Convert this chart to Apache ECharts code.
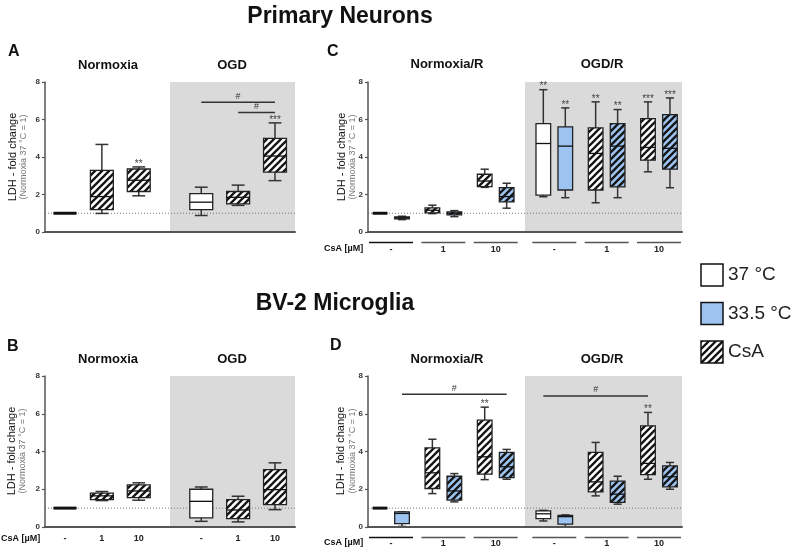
<!DOCTYPE html>
<html>
<head>
<meta charset="utf-8">
<script src="https://cdn.jsdelivr.net/npm/echarts@6/dist/echarts.min.js"></script>
<style>
  html, body { margin: 0; padding: 0; background: #fff; }
  #chart { width: 793px; height: 550px; }
</style>
</head>
<body>
<div id="chart"></div>
<script>
// CsA 浓度标签
const csaLabels = ['-', '1', '10', '-', '1', '10'];

// 图例
const legendNames = ['37 °C', '33.5 °C', 'CsA'];
const legendKinds = ['w', 'b', 'h'];

// A: Primary Neurons, Normoxia / OGD   [min, Q1, median, Q3, max]
const boxA = [
  [1, 1, 1, 1, 1],
  [0.99, 1.19, 1.89, 3.29, 4.67],
  [1.93, 2.16, 2.76, 3.36, 3.47],
  [0.88, 1.19, 1.59, 2.05, 2.39],
  [1.42, 1.50, 1.85, 2.16, 2.50],
  [2.74, 3.19, 4.05, 4.99, 5.82]
];
const kindA = ['w', 'h', 'h', 'w', 'h', 'h'];
const starA = ['', '', '**', '', '', '***'];
// [box from, box to, y]
const sigA = [[3, 5, 6.92], [4, 5, 6.37]];

// B: BV-2, Normoxia / OGD
const boxB = [
  [1, 1, 1, 1, 1],
  [1.40, 1.45, 1.65, 1.80, 1.88],
  [1.42, 1.56, 1.91, 2.23, 2.34],
  [0.30, 0.48, 1.36, 2.00, 2.12],
  [0.27, 0.44, 0.90, 1.45, 1.63],
  [0.92, 1.19, 1.98, 3.04, 3.40]
];
const kindB = ['w', 'h', 'h', 'w', 'h', 'h'];

// C: Primary Neurons, Normoxia/R / OGD/R (37 °C / 33.5 °C)
const boxC = [
  [1, 1, 1, 1, 1],
  [0.66, 0.70, 0.75, 0.80, 0.84],
  [0.98, 1.02, 1.16, 1.29, 1.43],
  [0.82, 0.91, 1.00, 1.07, 1.14],
  [2.38, 2.42, 2.72, 3.08, 3.35],
  [1.27, 1.61, 1.89, 2.37, 2.60],
  [1.88, 1.97, 4.72, 5.78, 7.59],
  [1.83, 2.24, 4.58, 5.61, 6.62],
  [1.56, 2.24, 4.19, 5.55, 6.94],
  [1.83, 2.41, 4.58, 5.78, 6.53],
  [3.21, 3.83, 4.51, 6.05, 6.94],
  [2.36, 3.35, 4.46, 6.26, 7.15]
];
const kindCD = ['w', 'b', 'h', 'hb', 'h', 'hb', 'w', 'b', 'h', 'hb', 'h', 'hb'];
const starC = ['', '', '', '', '', '', '**', '**', '**', '**', '***', '***'];

// D: BV-2, Normoxia/R / OGD/R
const boxD = [
  [1, 1, 1, 1, 1],
  [0.03, 0.18, 0.72, 0.80, 0.80],
  [1.77, 2.04, 2.87, 4.19, 4.65],
  [1.33, 1.42, 1.91, 2.69, 2.83],
  [2.51, 2.80, 3.72, 5.66, 6.35],
  [2.53, 2.62, 3.19, 3.95, 4.11],
  [0.32, 0.44, 0.70, 0.85, 0.88],
  [0.02, 0.15, 0.55, 0.62, 0.64],
  [1.65, 1.86, 2.39, 3.95, 4.48],
  [1.21, 1.30, 1.74, 2.43, 2.69],
  [2.53, 2.78, 3.37, 5.36, 6.07],
  [2.00, 2.13, 2.66, 3.24, 3.42]
];
const starD = ['', '', '', '', '**', '', '', '', '', '', '**', ''];
const sigD = [[1, 5, 7.03], [6, 10, 6.94]];

const FONT = '"Liberation Sans", Arial, sans-serif';
const BLUE = '#9dc3f1';
const GRAY = '#dadada';

// 斜线填充
function makeHatch(bg) {
  const c = document.createElement('canvas');
  c.width = 7;
  c.height = 7;
  const ctx = c.getContext('2d');
  ctx.fillStyle = bg;
  ctx.fillRect(0, 0, 7, 7);
  ctx.strokeStyle = '#151515';
  ctx.lineWidth = 2.3;
  ctx.beginPath();
  ctx.moveTo(-1, 8); ctx.lineTo(8, -1);
  ctx.moveTo(-1, 1); ctx.lineTo(1, -1);
  ctx.moveTo(6, 8); ctx.lineTo(8, 6);
  ctx.stroke();
  return c;
}
const hatchW = makeHatch('#ffffff');
const hatchB = makeHatch(BLUE);

function fillOf(kind) {
  if (kind === 'w') return '#ffffff';
  if (kind === 'b') return BLUE;
  if (kind === 'h') return { image: hatchW, repeat: 'repeat' };
  return { image: hatchB, repeat: 'repeat' };
}

// x 位置 (0..6 轴, 3 为分界)
function posAB(i) { return i < 3 ? 0.48 + 0.885 * i : 3.75 + 0.885 * (i - 3); }
function groupCD(g) { return g < 3 ? 0.44 + g : 3.56 + (g - 3); }
function posCD(i) { return groupCD(Math.floor(i / 2)) + (i % 2 ? 0.21 : -0.21); }

// 网格: 0=A 1=C 2=B 3=D
const grids = [
  { left: 45, top: 82, width: 250, height: 150 },
  { left: 368, top: 82, width: 314, height: 150 },
  { left: 45, top: 376, width: 250, height: 151 },
  { left: 368, top: 376, width: 314, height: 151 }
];

function bgSeries(idx) {
  return {
    type: 'custom', xAxisIndex: idx, yAxisIndex: idx, z: 1, silent: true,
    data: [[3, 6]],
    renderItem: function (params, api) {
      const p0 = api.coord([3, 8]);
      const p1 = api.coord([6, 0]);
      const l0 = api.coord([0, 1]);
      const l1 = api.coord([6, 1]);
      return {
        type: 'group', children: [
          { type: 'rect', shape: { x: p0[0], y: p0[1], width: p1[0] - p0[0], height: p1[1] - p0[1] }, style: { fill: GRAY } },
          { type: 'line', shape: { x1: l0[0], y1: l0[1], x2: l1[0], y2: l1[1] }, style: { stroke: '#777', lineWidth: 1, lineDash: [1, 2] } }
        ]
      };
    }
  };
}

function boxSeries(idx, boxes, kinds, stars, pos, boxW) {
  return {
    type: 'custom', xAxisIndex: idx, yAxisIndex: idx, z: 3,
    data: boxes.map((b, i) => [pos(i)].concat(b)),
    encode: { x: 0, y: [1, 2, 3, 4, 5] },
    renderItem: function (params, api) {
      const i = params.dataIndex;
      const x = api.value(0);
      const cx = api.coord([x, 0])[0];
      const yMin = api.coord([x, api.value(1)])[1];
      const yQ1 = api.coord([x, api.value(2)])[1];
      const yMed = api.coord([x, api.value(3)])[1];
      const yQ3 = api.coord([x, api.value(4)])[1];
      const yMax = api.coord([x, api.value(5)])[1];
      const w = api.size([boxW, 0])[0];
      const c = w * 0.28;
      const flat = api.value(2) === api.value(4);
      const ws = { stroke: '#333', lineWidth: 1.5 };
      const children = [
        { type: 'line', shape: { x1: cx, y1: yQ3, x2: cx, y2: yMax }, style: ws },
        { type: 'line', shape: { x1: cx - c, y1: yMax, x2: cx + c, y2: yMax }, style: ws },
        { type: 'line', shape: { x1: cx, y1: yQ1, x2: cx, y2: yMin }, style: ws },
        { type: 'line', shape: { x1: cx - c, y1: yMin, x2: cx + c, y2: yMin }, style: ws },
        { type: 'rect', shape: { x: cx - w / 2, y: yQ3, width: w, height: yQ1 - yQ3 },
          style: { fill: fillOf(kinds[i]), stroke: '#222', lineWidth: 1.3 } },
        { type: 'line', shape: { x1: cx - w / 2, y1: yMed, x2: cx + w / 2, y2: yMed },
          style: { stroke: '#111', lineWidth: flat ? 3 : 1.3 } }
      ];
      if (stars && stars[i]) {
        children.push({
          type: 'text', x: cx, y: yMax - 3,
          style: { text: stars[i], fontSize: 10, fontFamily: FONT, fill: '#444', align: 'center', verticalAlign: 'middle' }
        });
      }
      return { type: 'group', children: children };
    }
  };
}

function sigSeries(idx, sig, pos, color) {
  return {
    type: 'custom', xAxisIndex: idx, yAxisIndex: idx, z: 3, silent: true,
    data: sig.map(s => [pos(s[0]), pos(s[1]), s[2]]),
    encode: { x: [0, 1], y: 2 },
    renderItem: function (params, api) {
      const a = api.coord([api.value(0), api.value(2)]);
      const b = api.coord([api.value(1), api.value(2)]);
      return {
        type: 'group', children: [
          { type: 'line', shape: { x1: a[0], y1: a[1], x2: b[0], y2: b[1] }, style: { stroke: color, lineWidth: 1.4 } },
          { type: 'text', x: (a[0] + b[0]) / 2, y: a[1] - 6,
            style: { text: '#', fontSize: 9, fontFamily: FONT, fill: color, align: 'center', verticalAlign: 'middle' } }
        ]
      };
    }
  };
}

// CsA 标签行
function labelSeries(idx, xs, labelGap, under) {
  return {
    type: 'custom', xAxisIndex: idx, yAxisIndex: idx, z: 3, silent: true,
    data: xs.map((x, i) => [x, i]),
    encode: { x: 0, y: 1 },
    renderItem: function (params, api) {
      const p = api.coord([api.value(0), 0]);
      const children = [{
        type: 'text', x: p[0], y: p[1] + labelGap,
        style: { text: csaLabels[params.dataIndex], fontSize: 9, fontWeight: 'bold', fontFamily: FONT, fill: '#222', align: 'center', verticalAlign: 'middle' }
      }];
      if (under) {
        const h = api.size([0.42, 0])[0];
        children.push({ type: 'line', shape: { x1: p[0] - h, y1: p[1] + 10.5, x2: p[0] + h, y2: p[1] + 10.5 },
          style: { stroke: params.dataIndex === 0 ? '#111' : '#555', lineWidth: 1.6 } });
      }
      return { type: 'group', children: children };
    }
  };
}

function xAxisOf(i) {
  return {
    gridIndex: i, type: 'value', min: 0, max: 6, z: 5,
    axisLine: { show: true, lineStyle: { color: '#555', width: 2 } },
    axisTick: { show: false }, axisLabel: { show: false }, splitLine: { show: false }
  };
}
function yAxisOf(i) {
  return {
    gridIndex: i, type: 'value', min: 0, max: 8, interval: 2, z: 5,
    axisLine: { show: true, lineStyle: { color: '#555', width: 1.5 } },
    axisTick: { show: true, length: 3, lineStyle: { color: '#555', width: 1.2 } },
    axisLabel: { fontSize: 8, fontWeight: 'bold', color: '#333', margin: 5, fontFamily: FONT },
    splitLine: { show: false }
  };
}

function txt(x, y, text, size, extra) {
  return {
    type: 'text', x: x, y: y, silent: true,
    style: Object.assign({ text: text, fontSize: size, fontFamily: FONT, fill: '#111', align: 'center', verticalAlign: 'middle' }, extra || {})
  };
}

const graphics = [
  txt(340, 17, 'Primary Neurons', 23, { fontWeight: 'bold' }),
  txt(335, 304, 'BV-2 Microglia', 23, { fontWeight: 'bold' }),
  txt(8, 52, 'A', 16, { fontWeight: 'bold', align: 'left' }),
  txt(327, 52, 'C', 16, { fontWeight: 'bold', align: 'left' }),
  txt(7, 347, 'B', 16, { fontWeight: 'bold', align: 'left' }),
  txt(330, 346, 'D', 16, { fontWeight: 'bold', align: 'left' }),
  txt(108, 65, 'Normoxia', 13, { fontWeight: 'bold' }),
  txt(232, 65, 'OGD', 13, { fontWeight: 'bold' }),
  txt(447, 64, 'Normoxia/R', 13, { fontWeight: 'bold' }),
  txt(602, 64, 'OGD/R', 13, { fontWeight: 'bold' }),
  txt(108, 359, 'Normoxia', 13, { fontWeight: 'bold' }),
  txt(232, 359, 'OGD', 13, { fontWeight: 'bold' }),
  txt(447, 359, 'Normoxia/R', 13, { fontWeight: 'bold' }),
  txt(602, 359, 'OGD/R', 13, { fontWeight: 'bold' }),
  txt(1, 539, 'CsA [µM]', 9, { fontWeight: 'bold', align: 'left' }),
  txt(324, 249, 'CsA [µM]', 9, { fontWeight: 'bold', align: 'left' }),
  txt(324, 543, 'CsA [µM]', 9, { fontWeight: 'bold', align: 'left' })
];

// y 轴名称
[[13, 24, 157], [342, 353, 157], [12, 23, 451], [341, 353, 451]].forEach(p => {
  graphics.push(Object.assign(txt(p[0], p[2], 'LDH - fold change', 11), { rotation: Math.PI / 2 }));
  graphics.push(Object.assign(txt(p[1], p[2], '(Normoxia 37 °C = 1)', 9, { fill: '#777' }), { rotation: Math.PI / 2 }));
});

// 图例
legendNames.forEach((name, i) => {
  const y = 264 + i * 38.5;
  graphics.push({
    type: 'rect', silent: true, shape: { x: 701, y: y, width: 22, height: 22 },
    style: { fill: fillOf(legendKinds[i]), stroke: '#111', lineWidth: 1.5 }
  });
  graphics.push(txt(728, y + 11, name, 19, { align: 'left', fill: '#222' }));
});

const option = {
  animation: false,
  backgroundColor: '#fff',
  textStyle: { fontFamily: FONT },
  grid: grids.map(g => Object.assign({ outerBoundsMode: 'none', containLabel: false }, g)),
  xAxis: [0, 1, 2, 3].map(xAxisOf),
  yAxis: [0, 1, 2, 3].map(yAxisOf),
  graphic: graphics,
  series: [
    bgSeries(0), bgSeries(1), bgSeries(2), bgSeries(3),
    boxSeries(0, boxA, kindA, starA, posAB, 0.55),
    boxSeries(1, boxC, kindCD, starC, posCD, 0.28),
    boxSeries(2, boxB, kindB, null, posAB, 0.55),
    boxSeries(3, boxD, kindCD, starD, posCD, 0.28),
    sigSeries(0, sigA, posAB, '#333'),
    sigSeries(3, sigD, posCD, '#333'),
    labelSeries(1, [0, 1, 2, 3, 4, 5].map(groupCD), 17.3, true),
    labelSeries(2, [0, 1, 2, 3, 4, 5].map(posAB), 12, false),
    labelSeries(3, [0, 1, 2, 3, 4, 5].map(groupCD), 16.6, true)
  ]
};

const chart = echarts.init(document.getElementById('chart'));
chart.setOption(option);
</script>
</body>
</html>
